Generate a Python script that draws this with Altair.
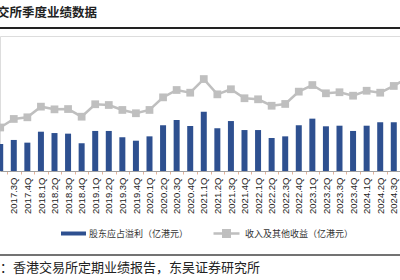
import altair as alt
import pandas as pd

title_text = "交所季度业绩数据"
source_text = "：香港交易所定期业绩报告，东吴证券研究所"
profit_name = "股东应占溢利（亿港元）"
revenue_name = "收入及其他收益（亿港元）"

quarters = ["2017.2Q", "2017.3Q", "2017.4Q", "2018.1Q", "2018.2Q", "2018.3Q", "2018.4Q",
            "2019.1Q", "2019.2Q", "2019.3Q", "2019.4Q", "2020.1Q", "2020.2Q", "2020.3Q",
            "2020.4Q", "2021.1Q", "2021.2Q", "2021.3Q", "2021.4Q", "2022.1Q", "2022.2Q",
            "2022.3Q", "2022.4Q", "2023.1Q", "2023.2Q", "2023.3Q", "2023.4Q", "2024.1Q",
            "2024.2Q", "2024.3Q", "2024.4Q"]
revenue = [29.0, 34.7, 35.8, 42.9, 41.1, 41.3, 36.2, 44.5, 44.0, 40.7, 38.5, 40.7, 49.1, 54.0,
           52.2, 61.3, 51.1, 54.5, 48.5, 47.8, 43.5, 44.7, 52.9, 57.3, 51.8, 52.5, 50.2, 53.5,
           52.2, 56.7, 62.0]
profit = [18.0, 20.7, 18.9, 26.2, 25.3, 24.9, 18.5, 26.7, 26.7, 22.5, 20.2, 23.1, 30.5, 34.0,
          30.0, 39.5, 28.5, 33.3, 27.3, 27.3, 22.0, 23.1, 30.5, 34.9, 29.8, 30.2, 26.7, 30.2,
          32.5, 32.5, 36.0]

df = pd.DataFrame({
    "idx": list(range(-1, len(quarters) - 1)),
    "quarter": quarters,
    "revenue": revenue,
    "profit": profit,
    "s1": profit_name,
    "s2": revenue_name,
})

# tick marks sit between quarters; labels are shifted half a step to the bar centres
label_list = ",".join(quarters[1:])
label_expr = "split('" + label_list + "', ',')[datum.value + 0.5]"

xscale = alt.Scale(domain=[-0.647, 28.09], nice=False, zero=False)
yscale = alt.Scale(domain=[0, 90], nice=False)

tick_vals = [k + 0.5 for k in range(-1, 29)]

x_enc = alt.X("idx:Q", scale=xscale, title=None,
              axis=alt.Axis(values=tick_vals, tickCount=200, labelExpr=label_expr,
                            labelAngle=-90, labelAlign="right", labelBaseline="middle",
                            labelPadding=3, labelOffset=6.96,
                            labelFont="Liberation Sans", labelFontSize=9.5, labelColor="#222",
                            labelOverlap=False, labelBound=False, labelFlush=False,
                            domainColor="#A0A0A0", domainWidth=1, grid=False,
                            tickSize=3, tickWidth=1, tickColor="#E6B49A"))

base = alt.Chart(df)

bars = base.mark_bar(width=6, clip=True, orient="vertical").encode(
    x=x_enc,
    y=alt.Y("profit:Q", scale=yscale, axis=None),
    color=alt.Color("s1:N", scale=alt.Scale(range=["#2E5090"]),
                    legend=alt.Legend(title=None, orient="none", legendX=61, legendY=185,
                                      symbolType="M-1,-0.16L1,-0.16L1,0.16L-1,0.16Z",
                                      symbolSize=625, symbolStrokeWidth=0,
                                      labelFont="Noto Sans CJK SC", labelFontSize=9,
                                      labelColor="#333", padding=0, labelOffset=3)),
)

line = base.mark_line(clip=True, strokeWidth=2.5,
                      point=alt.OverlayMarkDef(shape="square", size=60, filled=True,
                                               color="#BFBFBF", opacity=1)).encode(
    x="idx:Q",
    y=alt.Y("revenue:Q", scale=yscale, axis=None),
    color=alt.Color("s2:N", scale=alt.Scale(range=["#BFBFBF"]),
                    legend=alt.Legend(title=None, orient="none", legendX=212, legendY=183,
                                      symbolType="M-1,0L1,0M-0.25,-0.25L0.25,-0.25L0.25,0.25L-0.25,0.25Z",
                                      symbolSize=676, symbolStrokeWidth=2.5,
                                      symbolFillColor="#BFBFBF", symbolStrokeColor="#BFBFBF",
                                      labelFont="Noto Sans CJK SC", labelFontSize=9,
                                      labelColor="#333", padding=0, labelOffset=4)),
)

tdf = pd.DataFrame({"t": [title_text]})
sdf = pd.DataFrame({"t": [source_text]})
rdf = pd.DataFrame({"k": [0]})

title = alt.Chart(tdf).mark_text(align="left", baseline="middle", font="Noto Sans CJK SC",
                                 fontSize=12.5, fontWeight="bold", color="#222").encode(
    text="t:N", x=alt.value(-3), y=alt.value(-23))
source = alt.Chart(sdf).mark_text(align="left", baseline="middle", font="Noto Sans CJK SC",
                                  fontSize=13, color="#222").encode(
    text="t:N", x=alt.value(0), y=alt.value(232))
top_rule = alt.Chart(rdf).mark_rule(color="#222", strokeWidth=2).encode(
    x=alt.value(0), x2=alt.value(400), y=alt.value(-8))
bottom_rule = alt.Chart(rdf).mark_rule(color="#444", strokeWidth=1.5).encode(
    x=alt.value(0), x2=alt.value(400), y=alt.value(219))

chart = alt.layer(bars, line, title, source, top_rule, bottom_rule).resolve_scale(
    color="independent"
).properties(
    width=400, height=135,
    padding={"left": 0, "top": 36, "right": 0, "bottom": 109},
    autosize=alt.AutoSizeParams(type="none"),
).configure_view(stroke=None).configure(background="white")

chart.save("out.html", embed_options={"renderer": "svg", "actions": False})
